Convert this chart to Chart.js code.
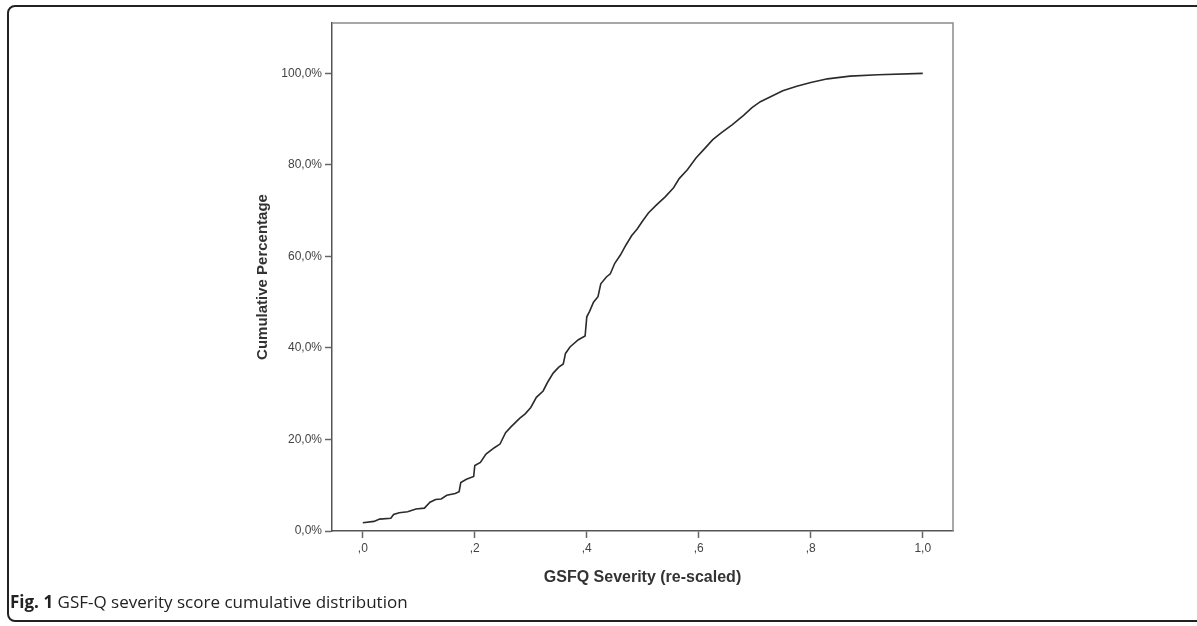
<!DOCTYPE html>
<html>
<head>
<meta charset="utf-8">
<script src="https://cdn.jsdelivr.net/npm/chart.js@4"></script>
<style>
  html, body { margin: 0; padding: 0; background: #fff; }
  body { width: 1197px; height: 626px; position: relative; overflow: hidden; }
  #frame {
    position: absolute; left: 7px; top: 5px; width: 1210px; height: 617px;
    border: 2px solid #222; border-radius: 8px; box-sizing: border-box;
  }
  #wrap { position: absolute; left: 0; top: 0; width: 1197px; height: 626px; }
  #caption {
    position: absolute; left: 10px; top: 590px;
    font-family: "Open Sans", sans-serif; font-size: 17px; color: #222;
  }
</style>
</head>
<body>
<div id="frame"></div>
<div id="wrap"><canvas id="cdf"></canvas></div>
<div id="caption"><b>Fig. 1</b> GSF-Q severity score cumulative distribution</div>
<script>
// severity (re-scaled) and cumulative percentage
const severity = [
  0.000, 0.020, 0.030, 0.050, 0.055, 0.065, 0.080, 0.095, 0.110, 0.120,
  0.130, 0.140, 0.150, 0.165, 0.172, 0.175, 0.185, 0.198, 0.200, 0.210,
  0.220, 0.235, 0.245, 0.255, 0.265, 0.280, 0.290, 0.300, 0.310, 0.322,
  0.330, 0.340, 0.350, 0.358, 0.362, 0.370, 0.385, 0.397, 0.400, 0.405,
  0.412, 0.420, 0.425, 0.435, 0.442, 0.450, 0.460, 0.470, 0.480, 0.490,
  0.500, 0.510, 0.525, 0.540, 0.555, 0.565, 0.580, 0.595, 0.610, 0.625,
  0.640, 0.660, 0.680, 0.695, 0.710, 0.730, 0.750, 0.775, 0.800, 0.830,
  0.870, 0.920, 1.000
];
const cumPct = [
  1.8, 2.1, 2.6, 2.8, 3.6, 4.0, 4.2, 4.8, 5.0, 6.3,
  6.9, 7.0, 7.8, 8.2, 8.6, 10.6, 11.3, 11.9, 14.3, 15.0,
  16.8, 18.2, 19.0, 21.5, 22.8, 24.6, 25.6, 27.0, 29.2, 30.6,
  32.5, 34.5, 35.8, 36.5, 38.8, 40.2, 41.8, 42.6, 46.8, 48.0,
  50.0, 51.2, 54.0, 55.5, 56.2, 58.5, 60.3, 62.5, 64.5, 66.0,
  67.8, 69.5, 71.3, 73.0, 75.0, 77.0, 79.0, 81.5, 83.5, 85.5,
  87.0, 88.8, 90.8, 92.5, 93.8, 95.0, 96.2, 97.2, 98.0, 98.8,
  99.4, 99.7, 100.0
];
const xTickValues = [0, 0.2, 0.4, 0.6, 0.8, 1.0];
const xTickLabels = [",0", ",2", ",4", ",6", ",8", "1,0"];
const yTickValues = [0, 20, 40, 60, 80, 100];
const yTickLabels = ["0,0%", "20,0%", "40,0%", "60,0%", "80,0%", "100,0%"];

const points = severity.map((s, i) => ({ x: s, y: cumPct[i] }));

// top + right edges of the plot box
const boxPlugin = {
  id: "box",
  afterDraw(chart) {
    const { ctx, chartArea: a } = chart;
    ctx.save();
    ctx.strokeStyle = "#8a8a8a";
    ctx.lineWidth = 1.5;
    ctx.beginPath();
    ctx.moveTo(a.left, a.top);
    ctx.lineTo(a.right, a.top);
    ctx.lineTo(a.right, a.bottom);
    ctx.stroke();
    ctx.restore();
  }
};

const font = "'Liberation Sans', Arial, sans-serif";

new Chart(document.getElementById("cdf"), {
  type: "line",
  data: {
    datasets: [{
      data: points,
      borderColor: "#2b2b2b",
      borderWidth: 1.6,
      pointRadius: 0,
      tension: 0,
      fill: false
    }]
  },
  options: {
    responsive: true,
    maintainAspectRatio: false,
    animation: false,
    layout: { padding: { left: 248, top: 23, right: 244, bottom: 35 } },
    plugins: { legend: { display: false }, tooltip: { enabled: false } },
    scales: {
      x: {
        type: "linear",
        min: -0.055,
        max: 1.054,
        afterBuildTicks: (s) => { s.ticks = xTickValues.map(v => ({ value: v })); },
        afterFit: (s) => { s.height = 60; },
        grid: { drawOnChartArea: false, tickLength: 7, tickColor: "#666", tickWidth: 1.5 },
        border: { color: "#555", width: 1.5 },
        ticks: {
          padding: 3,
          color: "#444",
          font: { family: font, size: 12 },
          maxRotation: 0,
          callback: (v) => {
            const i = xTickValues.findIndex(t => Math.abs(t - v) < 1e-6);
            return i >= 0 ? xTickLabels[i] : "";
          }
        },
        title: {
          display: true,
          text: "GSFQ Severity (re-scaled)",
          color: "#333",
          font: { family: font, size: 16, weight: "bold" },
          padding: { top: 0, bottom: 4 }
        }
      },
      y: {
        min: 0,
        max: 111,
        afterBuildTicks: (s) => { s.ticks = yTickValues.map(v => ({ value: v })); },
        afterFit: (s) => { s.width = 84; },
        grid: { drawOnChartArea: false, tickLength: 7, tickColor: "#666", tickWidth: 1.5 },
        border: { color: "#555", width: 1.5 },
        ticks: {
          padding: 3,
          color: "#444",
          font: { family: font, size: 12 },
          callback: (v) => {
            const i = yTickValues.indexOf(v);
            return i >= 0 ? yTickLabels[i] : "";
          }
        },
        title: {
          display: true,
          text: "Cumulative Percentage",
          color: "#333",
          font: { family: font, size: 15, weight: "bold" },
          padding: { top: 6, bottom: 0 }
        }
      }
    }
  },
  plugins: [boxPlugin]
});
</script>
</body>
</html>
